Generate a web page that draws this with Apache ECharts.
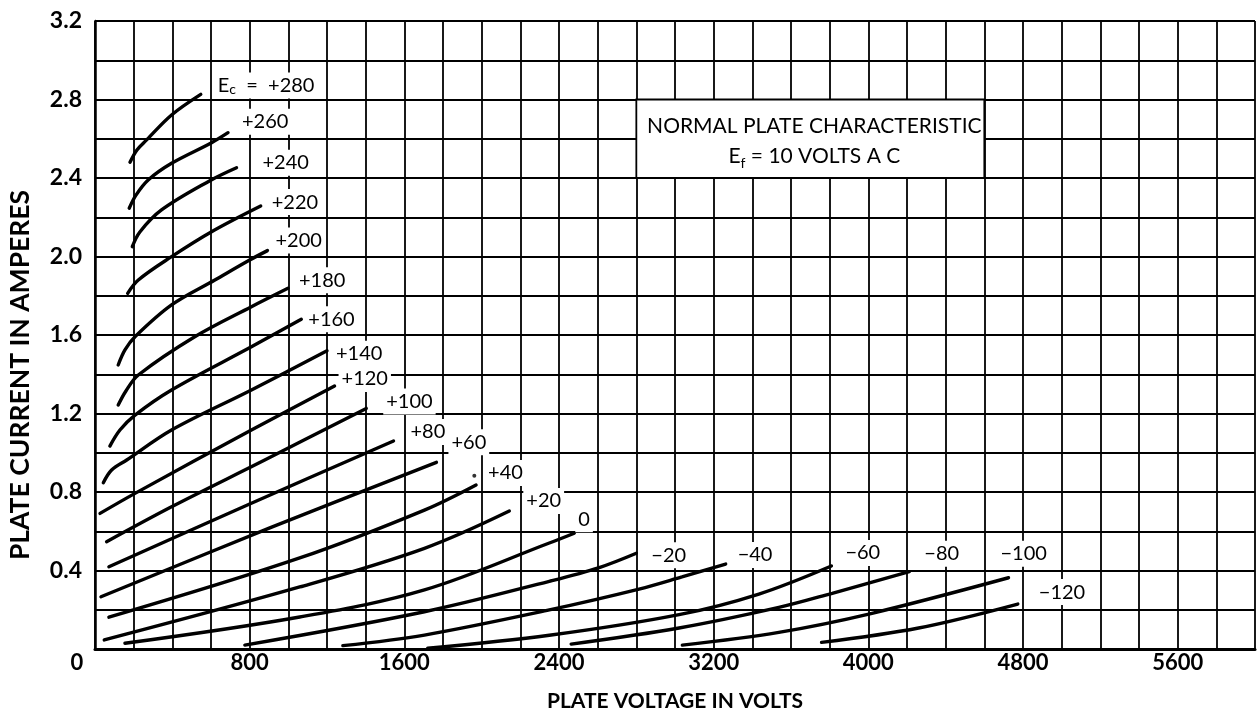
<!DOCTYPE html>
<html><head><meta charset="utf-8">
<script src="https://cdn.jsdelivr.net/npm/echarts@6/dist/echarts.min.js"></script>
<style>html,body{margin:0;padding:0;background:#fff}#c{width:1258px;height:723px}</style>
</head><body><div id="c"></div>
<script>
// ---- data (plate voltage V, plate current A) ----
const biasVolts = ['+280','+260','+240','+220','+200','+180','+160','+140','+120','+100','+80','+60','+40','+20','0','\u221220','\u221240','\u221260','\u221280','\u2212100','\u2212120'];
const curve280 = [[181,2.48],[217,2.543],[267,2.594],[396,2.721],[547,2.826]];
const curve260 = [[177,2.246],[212,2.313],[275,2.39],[396,2.475],[603,2.58],[688,2.631]];
const curve240 = [[193,2.05],[232,2.125],[344,2.237],[594,2.386],[732,2.452]];
const curve220 = [[169,1.812],[224,1.88],[396,1.999],[603,2.126],[857,2.257]];
const curve200 = [[120,1.447],[155,1.524],[207,1.591],[396,1.753],[620,1.88],[800,1.982],[892,2.03]];
const curve180 = [[120,1.243],[160,1.315],[224,1.396],[516,1.591],[809,1.744],[998,1.838]];
const curve160 = [[77,1.034],[129,1.116],[207,1.192],[396,1.32],[809,1.54],[1067,1.68]];
const curve140 = [[43,0.847],[86,0.912],[164,0.963],[396,1.116],[809,1.32],[1200,1.52]];
const curve120 = [[26,0.691],[207,0.793],[809,1.116],[1239,1.34]];
const curve100 = [[60,0.547],[396,0.725],[878,0.963],[1403,1.226]];
const curve80  = [[72,0.419],[800,0.739],[1544,1.06]];
const curve60  = [[31,0.266],[904,0.617],[1766,0.951]];
const curve40  = [[72,0.162],[1059,0.464],[1704,0.708],[1971,0.836]];
const curve20  = [[48,0.046],[1059,0.316],[1704,0.513],[2143,0.703]];
const curve0   = [[155,0.029],[1059,0.163],[1704,0.301],[2350,0.54],[2479,0.59]];
const curveM20 = [[775,0.02],[1704,0.19],[2350,0.345],[2608,0.415],[2800,0.488]];
const curveM40 = [[1282,0.017],[1704,0.071],[2350,0.199],[2814,0.305],[3036,0.367],[3262,0.433]];
const curveM60 = [[1721,0.004],[2350,0.07],[3021,0.175],[3434,0.28],[3809,0.423]];
const curveM80 = [[2463,0.025],[3021,0.107],[3537,0.212],[3813,0.284],[4212,0.394]];
const curveM100 = [[3038,0.02],[3537,0.085],[4019,0.182],[4725,0.363]];
const curveM120 = [[3758,0.034],[4260,0.107],[4773,0.229]];
const strayDot = [[1962,0.883]];
const xTickLabels = [0,800,1600,2400,3200,4000,4800,5600];
const yTickLabels = [0.4,0.8,1.2,1.6,2.0,2.4,2.8,3.2];
const titleLines = ['NORMAL PLATE CHARACTERISTIC','E|f| = 10 VOLTS A C'];
const xName = 'PLATE VOLTAGE IN VOLTS';
const yName = 'PLATE CURRENT IN AMPERES';

const curves = [curve280,curve260,curve240,curve220,curve200,curve180,curve160,curve140,curve120,curve100,curve80,curve60,curve40,curve20,curve0,curveM20,curveM40,curveM60,curveM80,curveM100,curveM120];

// ---- styling ----
const FONT = 'Lato';
const labelOffsets = [[6,-9],[3,-11],[15,-5],[0,-4],[-3,-10],[0,-8],[-4,0],[-2,3],[-4,-7],[9,-7],[6,-9],[4,-20],[1,-12],[6,-10],[-7,-14],[4,2],[1,-9],[3,-13],[4,-18],[-19,-24],[10,-12]];

const chart = echarts.init(document.getElementById('c'), null, {renderer:'canvas'});

const series = curves.map((d,i)=>({
  type:'line', name:biasVolts[i], data:d, smooth:0.35,
  symbol:'none', silent:true, animation:false,
  lineStyle:{color:'#000', width:3.4, cap:'round'},
  endLabel:{
    show:true,
    formatter: ()=> i===0 ? '{n|E}{s|c}{n|  =  '+biasVolts[i]+'}' : '{n|'+biasVolts[i]+'}',
    offset: labelOffsets[i],
    backgroundColor:'#fff', padding:[2,3],
    rich:{
      n:{fontFamily:FONT, fontSize:20, color:'#000', lineHeight:22},
      s:{fontFamily:FONT, fontSize:14, color:'#000', lineHeight:14, verticalAlign:'bottom'}
    }
  }
}));

const tl2 = titleLines[1].split('|');
series.push({
  type:'scatter', data:strayDot, symbolSize:4, silent:true, animation:false,
  itemStyle:{color:'#000'},
  markArea:{
    silent:true,
    itemStyle:{color:'#fff', borderColor:'#000', borderWidth:1.8},
    label:{
      show:true, position:'inside', offset:[4,2],
      formatter:'{n|'+titleLines[0]+'}\n{n|'+tl2[0]+'}{s|'+tl2[1]+'}{n|'+tl2[2]+'}',
      rich:{
        n:{fontFamily:FONT, fontSize:21, color:'#000', lineHeight:30},
        s:{fontFamily:FONT, fontSize:14, color:'#000', lineHeight:20, verticalAlign:'bottom'}
      }
    },
    data:[[{coord:[2800,2.8]},{coord:[4600,2.4]}]]
  }
});

const isIn = (arr,v)=>arr.some(a=>Math.abs(a-v)<1e-6);

chart.setOption({
  backgroundColor:'#fff',
  animation:false,
  grid:{left:95, right:1, top:21, bottom:74, containLabel:false},
  xAxis:{
    type:'value', min:0, max:6000, interval:200,
    axisLine:{show:true, onZero:false, lineStyle:{color:'#000', width:3}},
    axisTick:{show:false},
    splitLine:{show:true, lineStyle:{color:'#000', width:1.8}},
    axisLabel:{
      margin:3, color:'#000', fontFamily:FONT, fontWeight:'bold', fontSize:22,
      formatter:v=> !isIn(xTickLabels,v) ? '' : (v===0 ? '{z|0}' : String(v)),
      rich:{z:{fontFamily:FONT, fontWeight:'bold', fontSize:22, color:'#000', padding:[0,36,0,0]}}
    },
    name:xName, nameLocation:'middle', nameGap:42,
    nameTextStyle:{fontFamily:FONT, fontWeight:'bold', fontSize:21, color:'#000'}
  },
  yAxis:{
    type:'value', min:0, max:3.2, interval:0.2,
    axisLine:{show:true, onZero:false, lineStyle:{color:'#000', width:2.5}},
    axisTick:{show:false},
    splitLine:{show:true, lineStyle:{color:'#000', width:1.8}},
    axisLabel:{
      margin:13, color:'#000', fontFamily:FONT, fontWeight:'bold', fontSize:23,
      formatter:v=> isIn(yTickLabels,v) ? v.toFixed(1) : ''
    }
  },
  graphic:[{
    type:'text', x:20, y:375, rotation:Math.PI/2, z:100,
    style:{text:yName, fontFamily:FONT, fontWeight:'bold', fontSize:26.5, fill:'#000', align:'center', verticalAlign:'middle'}
  }],
  series:series
});
</script></body></html>
